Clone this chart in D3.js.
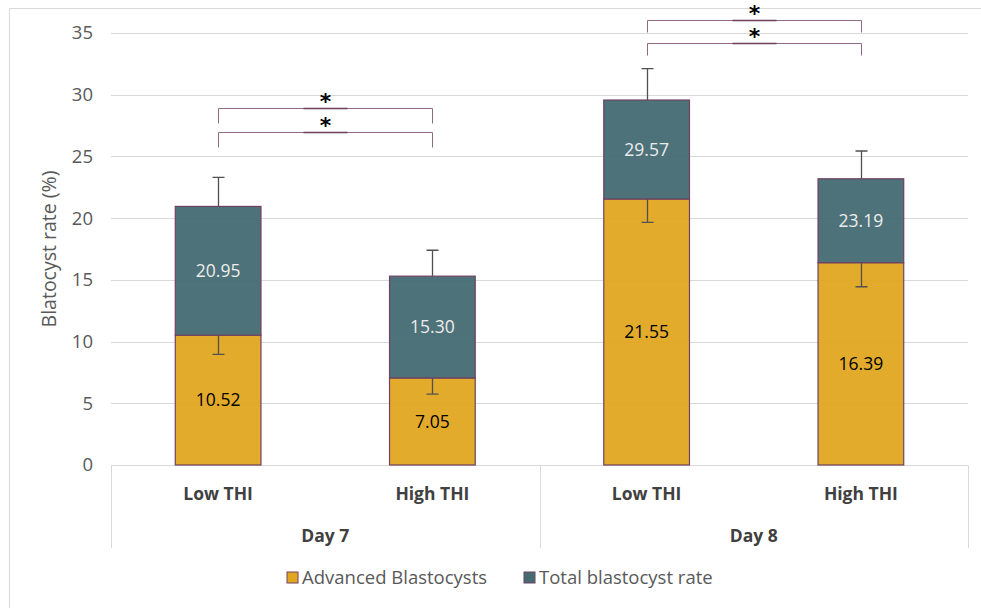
<!DOCTYPE html>
<html>
<head>
<meta charset="utf-8">
<script src="https://cdn.jsdelivr.net/npm/d3@7"></script>
<style>
  body { margin: 0; background: #fff; }
  svg { display: block; font-family: 'Open Sans', sans-serif; }
</style>
</head>
<body>
<svg id="chart" width="981" height="608"></svg>
<script>
// data ============================================================
const days       = ['Day 7', 'Day 7', 'Day 8', 'Day 8'];
const groups     = ['Low THI', 'High THI', 'Low THI', 'High THI'];
const advanced   = [10.52, 7.05, 21.55, 16.39];
const advErr     = [1.55, 1.30, 1.90, 1.95];
const total      = [20.95, 15.30, 29.57, 23.19];
const totalErr   = [2.35, 2.10, 2.55, 2.25];
const yTicks     = [0, 5, 10, 15, 20, 25, 30, 35];
const series     = ['Advanced Blastocysts', 'Total blastocyst rate'];
// significance brackets: pair of bars, level (in y units), drop
const brackets = [
  { a: 0, b: 1, y: 27.0, drop: 1.2 },
  { a: 0, b: 1, y: 28.9, drop: 1.2 },
  { a: 2, b: 3, y: 34.2, drop: 1.0 },
  { a: 2, b: 3, y: 36.05, drop: 0.95 }
];

const colors = { adv: '#E2A620', tot: '#456A72' };
const keys = d3.range(groups.length);

const margin = { left: 111, right: 13, top: 33, bottom: 143 },
      width = 981, height = 608;

const svg = d3.select('#chart');

// chart frame
svg.append('path')
  .attr('d', `M9.5,${height}V8.5H${width}`)
  .attr('fill', 'none').attr('stroke', '#d9d9d9');

const x = d3.scaleBand()
  .domain(keys)
  .range([margin.left, width - margin.right])
  .paddingInner(0.6).paddingOuter(0.3);
const y = d3.scaleLinear()
  .domain([0, 35])
  .range([height - margin.bottom, margin.top]);

// gridlines
svg.append('g').selectAll('line').data(yTicks.filter(d => d > 0)).join('line')
  .attr('x1', margin.left).attr('x2', width - margin.right)
  .attr('y1', d => Math.round(y(d)) + 0.5).attr('y2', d => Math.round(y(d)) + 0.5)
  .attr('stroke', '#d9d9d9').attr('stroke-width', 1);

// y axis labels
const ay = d3.axisLeft(y).tickValues(yTicks).tickSize(0).tickPadding(18);
const gy = svg.append('g').attr('transform', `translate(${margin.left},0)`).call(ay);
gy.select('.domain').remove();
gy.selectAll('text').attr('fill', '#595959').style('font-size', '18.5px')
  .style('font-family', "'Open Sans', sans-serif");

svg.append('text')
  .attr('transform', `translate(56,${y(17.5)}) rotate(-90)`)
  .attr('text-anchor', 'middle')
  .attr('fill', '#595959').style('font-size', '19.5px')
  .style('font-family', "'Open Sans', sans-serif")
  .text('Blatocyst rate (%)');

// category axis (two levels)
const y0 = Math.round(y(0)) + 0.5;
const axisBottom = 548;
const ga = svg.append('g').attr('stroke', '#d9d9d9').attr('fill', 'none');
ga.append('line').attr('x1', margin.left).attr('x2', width - margin.right)
  .attr('y1', y0).attr('y2', y0);
const sepX = [margin.left, (x(1) + x(2) + x.bandwidth()) / 2, width - margin.right];
ga.selectAll('line.sep').data(sepX).join('line').attr('class', 'sep')
  .attr('x1', d => Math.round(d) + 0.5).attr('x2', d => Math.round(d) + 0.5)
  .attr('y1', y0).attr('y2', axisBottom);

svg.append('g').selectAll('text').data(keys).join('text')
  .attr('x', i => x(i) + x.bandwidth() / 2).attr('y', 500)
  .attr('text-anchor', 'middle').attr('fill', '#404040')
  .style('font-size', '17.5px').style('font-weight', 'bold')
  .style('font-family', "'Open Sans', sans-serif")
  .text(i => groups[i]);

const dayNames = Array.from(new Set(days));
svg.append('g').selectAll('text').data(dayNames).join('text')
  .attr('x', d => {
    const idx = keys.filter(i => days[i] === d);
    return (x(idx[0]) + x(idx[idx.length - 1]) + x.bandwidth()) / 2;
  })
  .attr('y', 542)
  .attr('text-anchor', 'middle').attr('fill', '#404040')
  .style('font-size', '17.5px').style('font-weight', 'bold')
  .style('font-family', "'Open Sans', sans-serif")
  .text(d => d);

// bars
const barStroke = '#6F4262';
const gb = svg.append('g');
gb.selectAll('rect.adv').data(keys).join('rect').attr('class', 'adv')
  .attr('x', i => x(i)).attr('width', x.bandwidth())
  .attr('y', i => y(advanced[i])).attr('height', i => y(0) - y(advanced[i]))
  .attr('fill', colors.adv).attr('fill-opacity', 0.95)
  .attr('stroke', barStroke).attr('stroke-width', 1.2);
gb.selectAll('rect.tot').data(keys).join('rect').attr('class', 'tot')
  .attr('x', i => x(i)).attr('width', x.bandwidth())
  .attr('y', i => y(total[i])).attr('height', i => y(advanced[i]) - y(total[i]))
  .attr('fill', colors.tot).attr('fill-opacity', 0.95)
  .attr('stroke', barStroke).attr('stroke-width', 1.2);

// error bars
const errColor = '#505050';
const ge = svg.append('g').attr('stroke', errColor).attr('stroke-width', 1.3).attr('fill', 'none');
const errs = keys.flatMap(i => [
  { i, from: total[i], to: total[i] + totalErr[i] },
  { i, from: advanced[i], to: advanced[i] - advErr[i] }
]);
ge.selectAll('path').data(errs).join('path')
  .attr('d', e => {
    const cx = Math.round(x(e.i) + x.bandwidth() / 2) + 0.5;
    return `M${cx},${y(e.from)}V${y(e.to)}M${cx - 6},${y(e.to)}H${cx + 6}`;
  });

// value labels
const gl = svg.append('g').attr('text-anchor', 'middle')
  .style('font-size', '17.5px').style('font-family', "'Open Sans', sans-serif");
gl.selectAll('text.adv').data(keys).join('text').attr('class', 'adv')
  .attr('x', i => x(i) + x.bandwidth() / 2)
  .attr('y', i => (y(0) + y(advanced[i])) / 2).attr('dy', '0.35em')
  .attr('fill', '#000').text(i => advanced[i].toFixed(2));
gl.selectAll('text.tot').data(keys).join('text').attr('class', 'tot')
  .attr('x', i => x(i) + x.bandwidth() / 2)
  .attr('y', i => (y(advanced[i]) + y(total[i])) / 2).attr('dy', '0.35em')
  .attr('fill', '#ececec').text(i => total[i].toFixed(2));

// significance brackets
const gs = svg.append('g').attr('fill', 'none');
brackets.forEach(b => {
  const xa = Math.round(x(b.a) + x.bandwidth() / 2) + 0.5;
  const xb = Math.round(x(b.b) + x.bandwidth() / 2) + 0.5;
  const yy = Math.round(y(b.y)) + 0.5;
  const yd = Math.round(y(b.y - b.drop)) + 0.5;
  gs.append('path').attr('d', `M${xa},${yd}V${yy}H${xb}V${yd}`)
    .attr('stroke', '#8E6A80').attr('stroke-width', 1);
  const xm = (xa + xb) / 2;
  gs.append('line').attr('x1', xm - 22).attr('x2', xm + 22)
    .attr('y1', yy).attr('y2', yy).attr('stroke', '#6E3F58').attr('stroke-width', 1.6);
  svg.append('text').attr('x', xm).attr('y', yy)
    .attr('text-anchor', 'middle').attr('fill', '#000')
    .style('font-size', '22px').style('font-weight', 'bold')
    .style('font-family', "'DejaVu Sans', sans-serif")
    .text('*');
});

// legend
const legendY = 578;
const gL = svg.append('g');
const legendX = [287, 524];
series.forEach((s, k) => {
  gL.append('rect').attr('x', legendX[k]).attr('y', legendY - 6).attr('width', 11).attr('height', 11)
    .attr('fill', k ? colors.tot : colors.adv).attr('stroke', barStroke);
  gL.append('text').attr('x', legendX[k] + 15).attr('y', legendY).attr('dy', '0.35em')
    .attr('fill', '#595959').style('font-size', '18.5px')
    .style('font-family', "'Open Sans', sans-serif").text(s);
});
</script>
</body>
</html>
